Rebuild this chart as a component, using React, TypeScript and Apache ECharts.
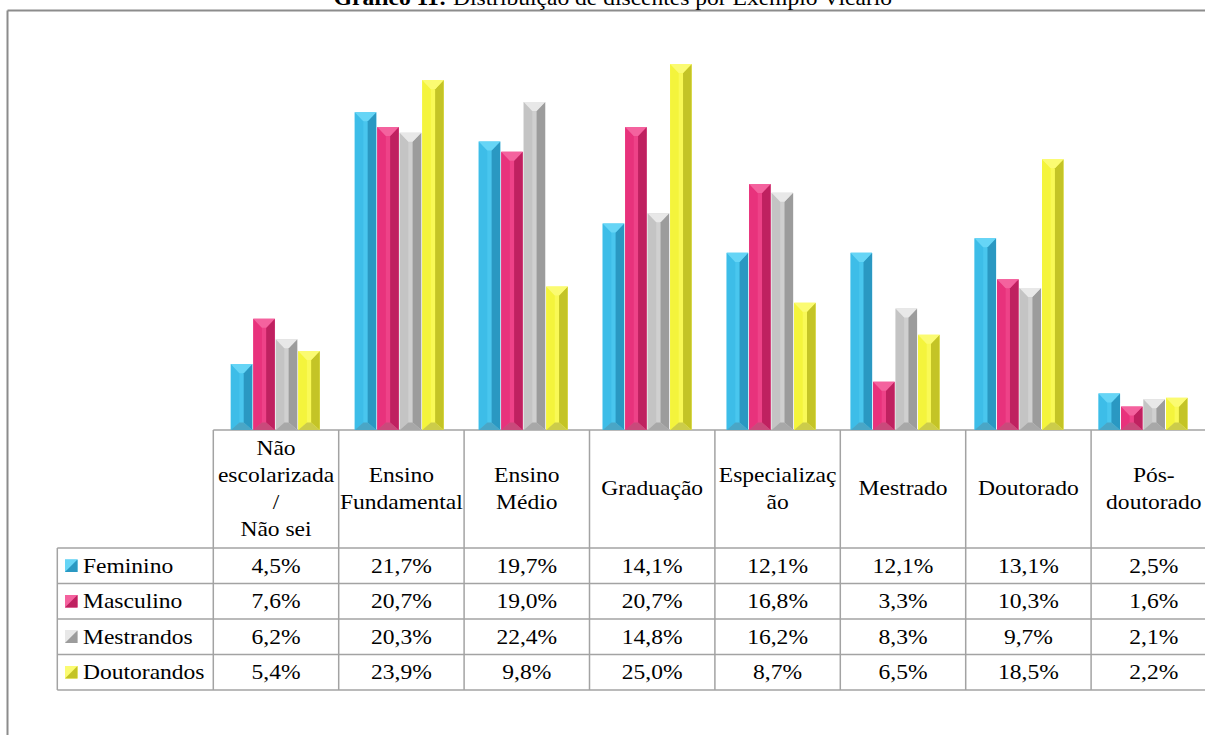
import React, { useEffect, useRef } from "react";
import * as echarts from "echarts";

const categories = [
  "Não\nescolarizada\n/\nNão sei",
  "Ensino\nFundamental",
  "Ensino\nMédio",
  "Graduação",
  "Especializaç\não",
  "Mestrado",
  "Doutorado",
  "Pós-\ndoutorado",
];
const seriesNames = ["Feminino", "Masculino", "Mestrandos", "Doutorandos"];
const feminino = [4.5, 21.7, 19.7, 14.1, 12.1, 12.1, 13.1, 2.5];
const masculino = [7.6, 20.7, 19.0, 20.7, 16.8, 3.3, 10.3, 1.6];
const mestrandos = [6.2, 20.3, 22.4, 14.8, 16.2, 8.3, 9.7, 2.1];
const doutorandos = [5.4, 23.9, 9.8, 25.0, 8.7, 6.5, 18.5, 2.2];
const seriesValues = [feminino, masculino, mestrandos, doutorandos];
const titleText = "Distribuição de discentes por Exemplo Vicário";
const titleBold = "Gráfico 11:";

const palettes = [
  { top: "#66d5f6", left: "#3dbde8", face: "#49c6ee", right: "#2a98c2", bottom: "#4aa6c6" },
  { top: "#f4629e", left: "#e8327c", face: "#ee4288", right: "#bf2160", bottom: "#c94a7b" },
  { top: "#e8e8e8", left: "#c4c4c4", face: "#d0d0d0", right: "#9c9c9c", bottom: "#a8a8a8" },
  { top: "#fbfb72", left: "#f4f43c", face: "#f9f956", right: "#c4c426", bottom: "#cccc4a" },
];

const FONT = "Liberation Serif";
const FS = 22;
const SX = 1.07;

// layout
const gridLeft = 213.3;
const colW = 125.4;
const baseY = 430;
const rowLines = [548, 583.5, 619, 654.5, 690];
const legendLeft = 57.3;
const lineColor = "#a3a3a3";

function fmt(v: number) {
  return v.toFixed(1).replace(".", ",") + "%";
}

function makeRender(si: number) {
  return (params: any, api: any) => {
    const cat = api.value(0);
    const val = api.value(1);
    const b = api.coord([cat, 0]);
    const t = api.coord([cat, val]);
    const band = api.size([1, 0])[0];
    const slot = band * 0.1814;
    const x0 = b[0] - 2 * slot + si * slot + 0.5;
    const w = slot - 1;
    const x1 = x0 + w;
    const y0 = t[1];
    const y1 = b[1];
    const h = y1 - y0;
    const dx = w * 0.4;
    const dt = Math.min(w * 0.42, h / 2);
    const db = Math.min(w * 0.35, h / 2);
    const p = palettes[si];
    return {
      type: "group",
      children: [
        { type: "rect", shape: { x: x0, y: y0, width: w, height: h }, style: { fill: p.face } },
        {
          type: "polygon",
          shape: { points: [[x0, y0], [x0 + dx, y0 + dt], [x0 + dx, y1 - db], [x0, y1]] },
          style: { fill: p.left },
        },
        {
          type: "polygon",
          shape: { points: [[x1, y0], [x1 - dx, y0 + dt], [x1 - dx, y1 - db], [x1, y1]] },
          style: { fill: p.right },
        },
        {
          type: "polygon",
          shape: { points: [[x0, y0], [x1, y0], [x1 - dx, y0 + dt], [x0 + dx, y0 + dt]] },
          style: { fill: p.top },
        },
        {
          type: "polygon",
          shape: { points: [[x0, y1], [x1, y1], [x1 - dx, y1 - db], [x0 + dx, y1 - db]] },
          style: { fill: p.bottom },
        },
      ],
    };
  };
}

export default function App() {
  const ref = useRef<HTMLDivElement>(null);
  useEffect(() => {
    document.body.style.margin = "0";
    const chart = echarts.init(ref.current!, null, { renderer: "svg" });

    const graphics: any[] = [];
    // outer frame
    graphics.push({ type: "line", shape: { x1: 7.5, y1: 10.5, x2: 1205, y2: 10.5 }, style: { stroke: "#8c8c8c", lineWidth: 2 } });
    graphics.push({ type: "line", shape: { x1: 7.5, y1: 10.5, x2: 7.5, y2: 735 }, style: { stroke: "#8c8c8c", lineWidth: 2 } });
    // title
    graphics.push({
      type: "text",
      x: 613,
      y: -2,
      scaleX: SX,
      style: {
        text: "{b|" + titleBold + "} " + titleText,
        align: "center",
        verticalAlign: "middle",
        fontFamily: FONT,
        fontSize: FS,
        fill: "#000",
        rich: { b: { fontWeight: "bold", fontFamily: FONT, fontSize: FS, fill: "#000" } },
      },
    });
    const rightEdge = gridLeft + colW * categories.length;
    // table lines
    graphics.push({ type: "line", shape: { x1: gridLeft, y1: baseY, x2: rightEdge, y2: baseY }, style: { stroke: lineColor, lineWidth: 1.5 } });
    rowLines.forEach((y) => {
      graphics.push({ type: "line", shape: { x1: legendLeft, y1: y, x2: rightEdge, y2: y }, style: { stroke: lineColor, lineWidth: 1.5 } });
    });
    graphics.push({ type: "line", shape: { x1: legendLeft, y1: rowLines[0], x2: legendLeft, y2: rowLines[rowLines.length - 1] }, style: { stroke: lineColor, lineWidth: 1.5 } });
    for (let k = 0; k <= categories.length; k++) {
      const x = gridLeft + k * colW;
      graphics.push({ type: "line", shape: { x1: x, y1: baseY, x2: x, y2: rowLines[rowLines.length - 1] }, style: { stroke: lineColor, lineWidth: 1.5 } });
    }
    // header texts
    categories.forEach((c, k) => {
      graphics.push({
        type: "text",
        x: gridLeft + (k + 0.5) * colW,
        y: (baseY + rowLines[0]) / 2 - 1,
        scaleX: SX,
        style: { text: c, align: "center", verticalAlign: "middle", fontFamily: FONT, fontSize: FS, lineHeight: 27, fill: "#000" },
      });
    });
    // rows
    seriesNames.forEach((name, si) => {
      const cy = (rowLines[si] + rowLines[si + 1]) / 2;
      const p = palettes[si];
      const ix = 65, iw = 12.5;
      const iy = cy - iw / 2;
      graphics.push({ type: "rect", shape: { x: ix, y: iy, width: iw, height: iw }, style: { fill: p.face } });
      graphics.push({ type: "polygon", shape: { points: [[ix, iy], [ix + iw, iy], [ix, iy + iw]] }, style: { fill: p.top } });
      graphics.push({ type: "polygon", shape: { points: [[ix + iw, iy], [ix + iw, iy + iw], [ix, iy + iw]] }, style: { fill: p.right } });
      graphics.push({
        type: "text",
        x: 83,
        y: cy,
        scaleX: SX,
        style: { text: name, align: "left", verticalAlign: "middle", fontFamily: FONT, fontSize: FS, fill: "#000" },
      });
      seriesValues[si].forEach((v, k) => {
        graphics.push({
          type: "text",
          x: gridLeft + (k + 0.5) * colW,
          y: cy,
          scaleX: SX,
          style: { text: fmt(v), align: "center", verticalAlign: "middle", fontFamily: FONT, fontSize: FS, fill: "#000" },
        });
      });
    });

    const option: any = {
      animation: false,
      backgroundColor: "#ffffff",
      grid: { left: gridLeft, top: baseY - 26 * 14.64, width: colW * categories.length, height: 26 * 14.64 },
      xAxis: {
        type: "category",
        data: categories,
        show: false,
      },
      yAxis: { type: "value", min: 0, max: 26, show: false },
      series: seriesNames.map((name, si) => ({
        type: "custom",
        name,
        renderItem: makeRender(si),
        encode: { x: 0, y: 1 },
        data: seriesValues[si].map((v, k) => [k, v]),
      })),
      graphic: graphics,
    };
    chart.setOption(option);
    return () => chart.dispose();
  }, []);
  return <div ref={ref} style={{ width: 1205, height: 735 }} />;
}
